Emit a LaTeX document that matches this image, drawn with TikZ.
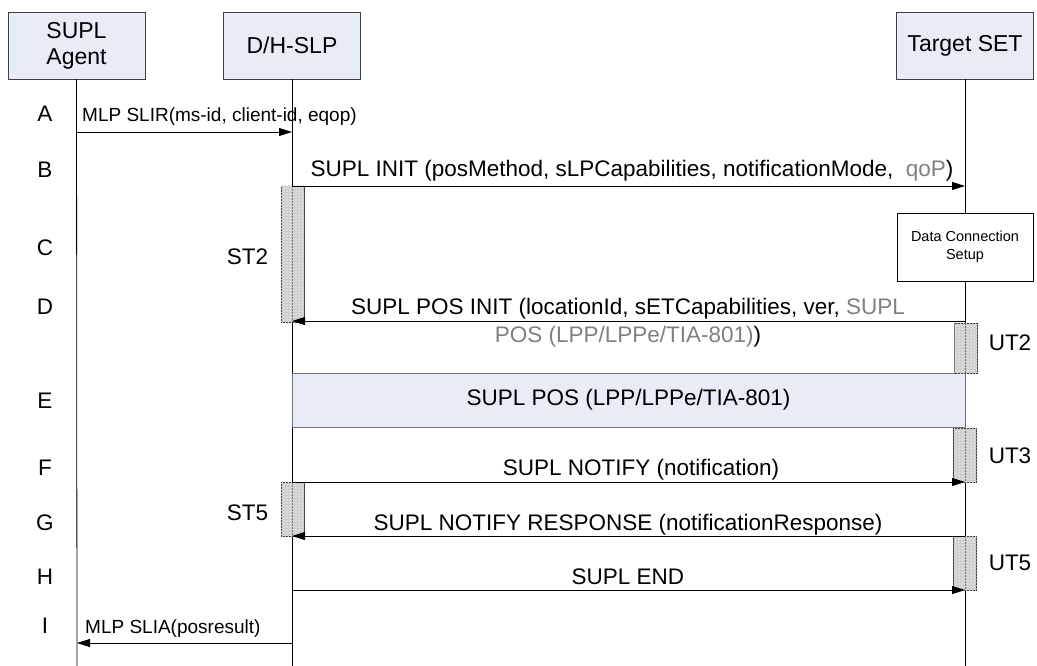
\documentclass[tikz,border=0pt]{standalone}
\usepackage{fontspec}
\setmainfont{Liberation Sans}
\usetikzlibrary{arrows.meta,patterns}
\definecolor{hdrfill}{RGB}{231,236,247}
\definecolor{txtgray}{RGB}{128,128,128}
\definecolor{timerfill}{RGB}{220,220,220}
\begin{document}
\begin{tikzpicture}[x=1pt,y=-1pt,
  hdr/.style={draw=black!75, fill=hdrfill, minimum width=137pt, minimum height=67pt, inner sep=0pt, align=center, font=\fontsize{23}{26}\selectfont},
  msg/.style={draw, line width=0.8pt, -{Triangle[length=13pt,width=8pt]}},
  lbl/.style={font=\fontsize{22.5}{28}\selectfont, inner sep=0pt},
  mlp/.style={font=\fontsize{19}{22}\selectfont, inner sep=0pt},
  lifeline/.style={draw, line width=0.8pt},
  timer/.style={draw=black!75, fill=timerfill, inner sep=0pt, minimum width=23pt, postaction={pattern=grid, pattern color=gray!40}},
  tmrline/.style={draw=black!55, dash pattern=on 2pt off 1pt, line width=0.6pt},
]
\useasboundingbox (0,0) rectangle (1037,666);

% headers
\node[hdr] (agent) at (76.5,45.5) {SUPL\\Agent};
\node[hdr] (slp) at (292,45.5) {D/H-SLP};
\node[hdr] (set) at (965,45.5) {Target SET};

% ends of lifelines
\coordinate (agentEnd) at (77,666);
\coordinate (slpEnd) at (292,666);
\coordinate (setEnd) at (965,666);

% data connection setup box
\node[draw, fill=white, minimum width=136pt, minimum height=68pt, inner sep=0pt, align=center, font=\fontsize{14.5}{17.5}\selectfont] (dcs) at (965,247) {Data Connection\\Setup};

% lifelines
\draw[lifeline] (agent.south) -- (agentEnd);
\draw[lifeline] (slp.south) -- (slpEnd);
\draw[lifeline] (set.south) -- (dcs.north);
\draw[lifeline] (dcs.south) -- (setEnd);

% E box
\node[draw=black!55, fill=hdrfill, minimum width=673pt, minimum height=54pt, inner sep=0pt, font=\fontsize{22.5}{26}\selectfont] (ebox) at (628.5,400) {SUPL POS (LPP/LPPe/TIA-801)};

% timers
\node[timer, minimum height=136pt] (st2) at (292.5,254) {};
\node[timer, minimum height=54pt] (st5) at (292.5,509) {};
\node[timer, minimum height=50pt] (ut2) at (966,348) {};
\node[timer, minimum height=54pt] (ut3) at (965,455) {};
\node[timer, minimum height=54pt] (ut5) at (965,563) {};
\draw[tmrline] (st2.north -| slp.south) -- (st2.south -| slp.south);
\draw[tmrline] (st5.north -| slp.south) -- (st5.south -| slp.south);
\draw[tmrline] (ut2.north -| set.south) -- (ut2.south -| set.south);
\draw[tmrline] (ut3.north -| set.south) -- (ut3.south -| set.south);
\draw[tmrline] (ut5.north -| set.south) -- (ut5.south -| set.south);

\node[lbl, anchor=base] (st2l) at (247.5,265) {ST2};
\node[lbl, anchor=base] (st5l) at (247.5,520) {ST5};
\node[lbl, anchor=base] (ut2l) at (1010,350) {UT2};
\node[lbl, anchor=base] (ut3l) at (1010,463) {UT3};
\node[lbl, anchor=base] (ut5l) at (1010,570) {UT5};

% row letters
\node[lbl, anchor=base] (rA) at (45,122) {A};
\node[lbl, anchor=base] (rB) at (45,178) {B};
\node[lbl, anchor=base] (rC) at (45,255) {C};
\node[lbl, anchor=base] (rD) at (45,314) {D};
\node[lbl, anchor=base] (rE) at (45,408) {E};
\node[lbl, anchor=base] (rF) at (45,475) {F};
\node[lbl, anchor=base] (rG) at (45,530) {G};
\node[lbl, anchor=base] (rH) at (45,584) {H};
\node[lbl, anchor=base] (rI) at (45,633) {I};

% message coordinates
\coordinate (a1) at (77,132);  \coordinate (a2) at (292,132);
\coordinate (b1) at (292,186); \coordinate (b2) at (965,186);
\coordinate (d1) at (965,321); \coordinate (d2) at (292,321);
\coordinate (f1) at (292,482); \coordinate (f2) at (965,482);
\coordinate (g1) at (965,536); \coordinate (g2) at (292,536);
\coordinate (h1) at (292,590); \coordinate (h2) at (965,590);
\coordinate (i1) at (292,643); \coordinate (i2) at (77,643);

\draw[msg] (a1) -- (a2);
\draw[msg] (b1) -- (b2);
\draw[msg] (d1) -- (d2);
\draw[msg] (f1) -- (f2);
\draw[msg] (g1) -- (g2);
\draw[msg] (h1) -- (h2);
\draw[msg] (i1) -- (i2);

% message labels
\node[mlp, anchor=base west] (la) at (82,122) {MLP SLIR(ms-id, client-id, eqop)};
\node[lbl, anchor=base] (lb) at (632,177) {SUPL INIT (posMethod, sLPCapabilities, notificationMode,\ \ \textcolor{txtgray}{qoP})};
\node[lbl, anchor=north, align=center] (ld) at (628,297.5) {SUPL POS INIT (locationId, sETCapabilities, ver, \textcolor{txtgray}{SUPL}\\\textcolor{txtgray}{POS (LPP/LPPe/TIA-801)})};
\node[lbl, anchor=base] (lf) at (641,475) {SUPL NOTIFY (notification)};
\node[lbl, anchor=base] (lg) at (628,530) {SUPL NOTIFY RESPONSE (notificationResponse)};
\node[lbl, anchor=base] (lh) at (628,584) {SUPL END};
\node[mlp, anchor=base west] (li) at (85,633) {MLP SLIA(posresult)};
\end{tikzpicture}
\end{document}
